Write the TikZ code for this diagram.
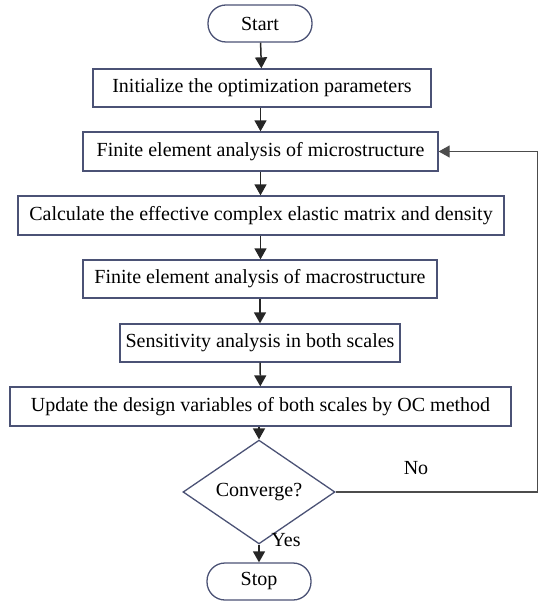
\documentclass[tikz,border=0pt]{standalone}
\usepackage{fontspec}
\setmainfont{Liberation Serif}
\usetikzlibrary{shapes.geometric,arrows.meta}

\definecolor{edgecolor}{HTML}{4B5275}
\colorlet{linecolor}{black!85}

\begin{document}
\begin{tikzpicture}[x=1pt,y=-1pt,
    box/.style={draw=edgecolor,line width=1.3pt,minimum height=38pt,inner sep=0pt,
      font=\fontsize{20}{23}\selectfont},
    term/.style={box,rounded corners=18pt,minimum width=104pt,minimum height=37pt},
    decide/.style={box,diamond,minimum width=152pt,minimum height=69pt},
    flow/.style={-{Triangle[length=11pt,width=12pt]},line width=1.5pt,draw=linecolor},
    lbl/.style={font=\fontsize{20}{23}\selectfont,inner sep=0pt}]

    \useasboundingbox (0,0) rectangle (539,601);

    \node[term] (start) at (260,23.5) {Start};
    \node[box,minimum width=338pt] (init) at (262,88) {Initialize the optimization parameters};
    \node[box,minimum width=355pt,minimum height=39pt] (micro) at (260.5,151.5) {Finite element analysis of microstructure};
    \node[box,minimum width=486pt,minimum height=39pt] (calc) at (261,215.5) {Calculate the effective complex elastic matrix and density};
    \node[box,minimum width=354pt] (macro) at (260,279) {Finite element analysis of macrostructure};
    \node[box,minimum width=280pt] (sens) at (260,343) {Sensitivity analysis in both scales};
    \node[box,minimum width=501pt,minimum height=39pt] (update) at (260.5,406.5) {Update the design variables of both scales by OC method};
    \node[decide] (conv) at (259,492) {Converge?};
    \node[term] (stop) at (259,581.5) {Stop};

    \draw[flow] (start) -- (init);
    \draw[flow] (init.south -| micro) -- (micro);
    \draw[flow] (micro) -- (calc.north -| micro);
    \draw[flow] (calc.south -| micro) -- (macro.north -| micro);
    \draw[flow] (macro) -- (sens);
    \draw[flow] (sens) -- (update);
    \draw[flow] (update.south -| conv) -- (conv);
    \draw[flow] (conv) -- (stop);

    % loop back when not converged
    \coordinate (back) at (537.5,492);
    \draw[flow,line width=1.2pt,draw=black!70] (conv.east) -- (back) |- (micro.east);

    \node[lbl] (no) at (416,468) {No};
    \node[lbl] (yes) at (286,540) {Yes};

\end{tikzpicture}
\end{document}
